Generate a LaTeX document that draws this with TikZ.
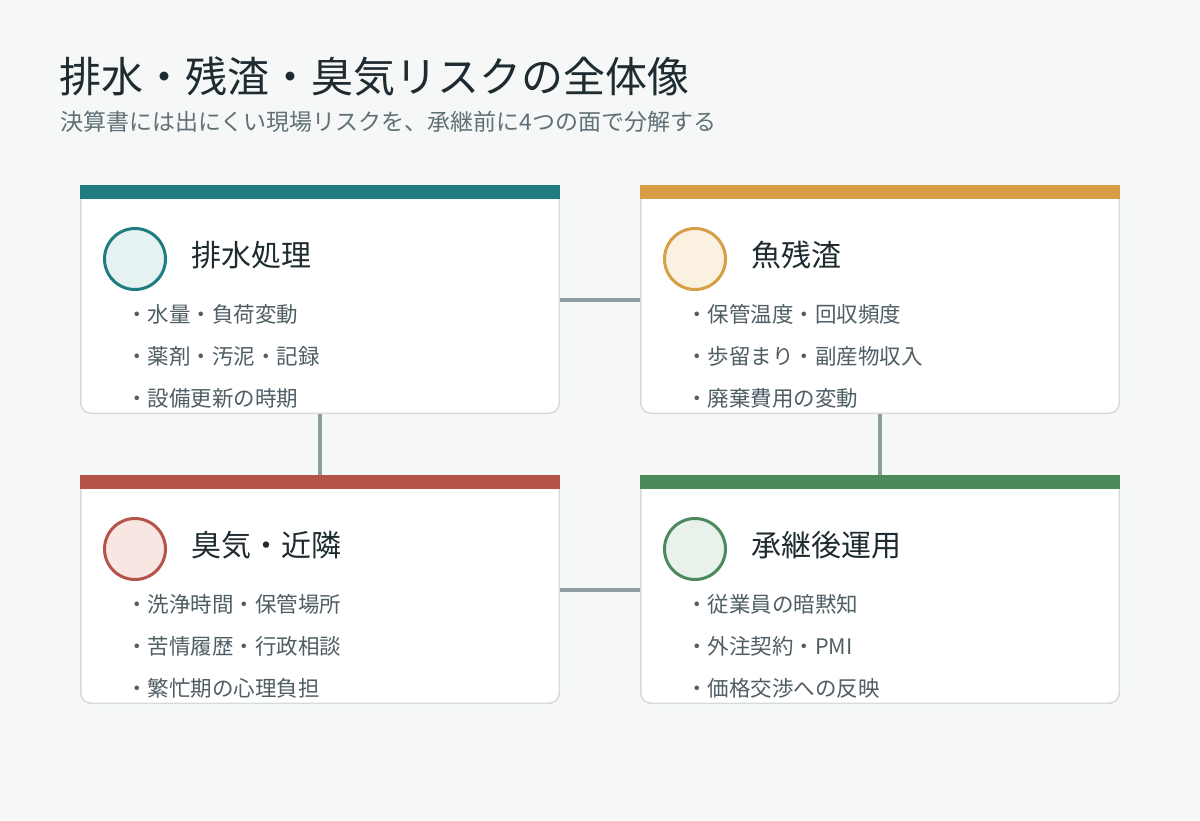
\documentclass[tikz,border=0pt]{standalone}
\usepackage{fontspec}
\setmainfont{Noto Sans CJK JP}
\usetikzlibrary{positioning}

\definecolor{bg}{HTML}{F6F8F8}
\definecolor{ink}{HTML}{1E2B30}
\definecolor{subink}{HTML}{5F7077}
\definecolor{itemink}{HTML}{4F5E64}
\definecolor{cardline}{HTML}{D5DBDD}
\definecolor{linkgray}{HTML}{8E9DA2}
\definecolor{teal}{HTML}{1F7D80}
\definecolor{teallight}{HTML}{E6F1F2}
\definecolor{amber}{HTML}{D69E45}
\definecolor{amberlight}{HTML}{FBF1E1}
\definecolor{brick}{HTML}{B5554A}
\definecolor{bricklight}{HTML}{F8E6E3}
\definecolor{leaf}{HTML}{4D8A5B}
\definecolor{leaflight}{HTML}{E9F2EA}

\tikzset{
    card/.style={
        draw=cardline, line width=1.5pt, fill=white,
        rounded corners=10pt,
        minimum width=478.5pt, minimum height=227.5pt,
        inner sep=0pt
    },
    badge/.style={circle, line width=3pt, minimum size=61pt, inner sep=0pt},
    head/.style={font=\fontsize{30}{34}\selectfont, text=ink, inner sep=0pt},
    item/.style={font=\fontsize{21.5}{25}\selectfont, text=itemink, inner sep=0pt, anchor=west},
    link/.style={draw=linkgray, line width=4pt},
    node distance=80pt
}

\begin{document}
\begin{tikzpicture}[x=1pt, y=-1pt]

    \fill[bg] (0,0) rectangle (1200,820);
    \useasboundingbox (0,0) rectangle (1200,820);

    % Title
    \node[anchor=west, inner sep=0pt, text=ink, font=\fontsize{42}{46}\selectfont] (title) at (59,76) {排水・残渣・臭気リスクの全体像};
    \node[anchor=west, inner sep=0pt, text=subink, font=\fontsize{23}{27}\selectfont] (subtitle) at (60,122) {決算書には出にくい現場リスクを、承継前に4つの面で分解する};

    % Cards
    \node[card] (water) at (320,299.5) {};
    \node[card, right = of water] (residue) {};
    \node[card, below = 61pt of water] (odor) {};
    \node[card, right = of odor] (after) {};

    % Lines
    \draw[link] (water) -- (residue);
    \draw[link] (odor) -- (after);
    \draw[link] (water) -- (odor);
    \draw[link] (residue) -- (after);

    % Top bars
    \fill[teal] (water.north west) rectangle ([yshift=-14pt]water.north east);
    \fill[amber] (residue.north west) rectangle ([yshift=-14pt]residue.north east);
    \fill[brick] (odor.north west) rectangle ([yshift=-14pt]odor.north east);
    \fill[leaf] (after.north west) rectangle ([yshift=-14pt]after.north east);

    % Water card
    \node[badge, draw=teal, fill=teallight] (waterIcon) at ([xshift=55pt,yshift=-74pt]water.north west) {};
    \node[head, right = 24pt of waterIcon, yshift=4pt] (waterHead) {排水処理};
    \node[item] (water1) at ([xshift=46pt,yshift=-129pt]water.north west) {・水量・負荷変動};
    \node[item] (water2) at ([xshift=46pt,yshift=-171pt]water.north west) {・薬剤・汚泥・記録};
    \node[item] (water3) at ([xshift=46pt,yshift=-213pt]water.north west) {・設備更新の時期};

    % Residue card
    \node[badge, draw=amber, fill=amberlight] (residueIcon) at ([xshift=55pt,yshift=-74pt]residue.north west) {};
    \node[head, right = 24pt of residueIcon, yshift=4pt] (residueHead) {魚残渣};
    \node[item] (residue1) at ([xshift=46pt,yshift=-129pt]residue.north west) {・保管温度・回収頻度};
    \node[item] (residue2) at ([xshift=46pt,yshift=-171pt]residue.north west) {・歩留まり・副産物収入};
    \node[item] (residue3) at ([xshift=46pt,yshift=-213pt]residue.north west) {・廃棄費用の変動};

    % Odor card
    \node[badge, draw=brick, fill=bricklight] (odorIcon) at ([xshift=55pt,yshift=-74pt]odor.north west) {};
    \node[head, right = 24pt of odorIcon, yshift=4pt] (odorHead) {臭気・近隣};
    \node[item] (odor1) at ([xshift=46pt,yshift=-129pt]odor.north west) {・洗浄時間・保管場所};
    \node[item] (odor2) at ([xshift=46pt,yshift=-171pt]odor.north west) {・苦情履歴・行政相談};
    \node[item] (odor3) at ([xshift=46pt,yshift=-213pt]odor.north west) {・繁忙期の心理負担};

    % After card
    \node[badge, draw=leaf, fill=leaflight] (afterIcon) at ([xshift=55pt,yshift=-74pt]after.north west) {};
    \node[head, right = 24pt of afterIcon, yshift=4pt] (afterHead) {承継後運用};
    \node[item] (after1) at ([xshift=46pt,yshift=-129pt]after.north west) {・従業員の暗黙知};
    \node[item] (after2) at ([xshift=46pt,yshift=-171pt]after.north west) {・外注契約・PMI};
    \node[item] (after3) at ([xshift=46pt,yshift=-213pt]after.north west) {・価格交渉への反映};

\end{tikzpicture}
\end{document}
